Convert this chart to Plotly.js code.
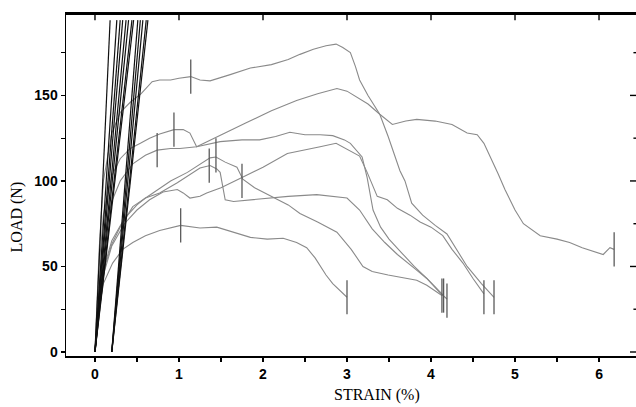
<!DOCTYPE html>
<html>
<head>
<meta charset="utf-8">
<script src="https://cdn.plot.ly/plotly-3.0.1.min.js"></script>
<style>html,body{margin:0;padding:0;overflow:hidden;background:#fff;}#chart{width:640px;height:407px;}</style>
</head>
<body>
<div id="chart"></div>
<script>
// ---- data (strain in %, load in N) ----
var strainA = [0,0.05,0.1,0.2,0.3,0.42,0.55,0.62,0.68,0.77,0.9,1.0,1.14,1.25,1.37,1.6,1.85,2.1,2.3,2.44,2.6,2.75,2.87,2.95,3.04,3.1,3.15,3.25,3.39,3.49,3.63,3.69,3.77,3.9,4.05,4.19,4.3,4.43,4.6,4.75];
var loadA   = [0,60,100,128,140,146,151,155,158,159,159,160,161,159,158.5,162,166,168,171,174,177,179,180,178,175,167,159,150,139,126,106,100,87,80,74,69,60,50,40,32];

var strainB = [0,0.05,0.1,0.2,0.3,0.42,0.54,0.65,0.77,0.94,1.05,1.13,1.21,1.5,1.8,2.1,2.4,2.65,2.88,3.0,3.12,3.25,3.39,3.54,3.7,3.83,4.05,4.25,4.43,4.55,4.63,4.7,4.8,4.88,5.0,5.1,5.3,5.5,5.65,5.8,5.95,6.05,6.13,6.18];
var loadB   = [0,50,80,103,113,119,122,125,127.5,130,130,128,120,127,134,141,147,151,154,152.5,149,145,139,133,135,136,135,133,128,127,122,115,104,95,83,75,68,66,64,61,58.5,57,61,60];

var strainC = [0,0.05,0.1,0.2,0.3,0.45,0.6,0.74,0.9,1.01,1.21,1.49,1.75,1.96,2.15,2.32,2.5,2.68,2.83,2.97,3.04,3.18,3.24,3.31,3.4,3.5,3.65,3.8,3.95,4.1,4.19];
var loadC   = [0,40,65,88,100,110,115,118,119,119,120,123,124,124,126,128.5,127,127,126.5,124,122,114,102,83,73,66,58,50,43,35,31];

var strainD = [0,0.05,0.1,0.2,0.35,0.5,0.6,0.77,0.98,1.1,1.25,1.37,1.45,1.49,1.52,1.55,1.65,1.85,2.1,2.3,2.64,2.85,3.0,3.15,3.3,3.45,3.6,3.8,3.95,4.05,4.15];
var loadD   = [0,30,48,65,78,86,90,93,99,103,107.6,109,107,105,97,89,88,89,90,91,92,91,90,83,72,64,57,49,43,38,33];

var strainE = [0,0.05,0.1,0.2,0.3,0.45,0.69,0.9,1.1,1.25,1.37,1.44,1.55,1.69,1.76,1.9,2.12,2.3,2.44,2.65,2.88,3.05,3.19,3.3,3.49,3.65,3.83,3.95,4.13];
var loadE   = [0,30,47,63,73,85,93,100,105,110,113.5,114,111,108,101,96,90.6,86,81,76,70,60,50,47,45,43.5,42,39,33];

var strainF = [0,0.05,0.1,0.2,0.35,0.5,0.65,0.81,0.98,1.05,1.13,1.25,1.33,1.5,1.75,2.0,2.29,2.5,2.68,2.87,3.04,3.15,3.24,3.36,3.48,3.6,3.75,3.87,4.0,4.14,4.25,4.38,4.5,4.63];
var loadF   = [0,28,45,62,75,83,89,93.5,95,93,90,91,93,96,102,108,116,118,120,122,117.5,114.5,105,91,89,84,80,76,73,68,60,52,43,34];

var strainG = [0,0.05,0.1,0.21,0.33,0.45,0.6,0.77,1.02,1.25,1.45,1.65,1.85,2.05,2.24,2.4,2.52,2.62,2.68,2.75,2.83,2.92,3.0];
var loadG   = [0,25,40,52,60,64,68,71,74,72.5,73,70,67,66,66.5,64,61,55,50,45,40,36,32];

// vertical marker bars (centre point on each curve), half height in N
var barStrain = [1.14,0.94,0.74,1.36,1.44,1.75,1.02, 3.0,4.13,4.15,4.19,4.63,4.75,6.18];
var barLoad   = [161,130,118,109,115,100,74, 32,33,33,30,32,32,60];
var barHalf = 10;

// steep initial loading lines (black): start strain and strain where they leave the top
var stiffStart = [0,0,0,0,0,0,0,0, 0.2,0.2,0.2,0.2,0.2];
var stiffEnd   = [0.18,0.26,0.30,0.33,0.37,0.40,0.44,0.46, 0.51,0.54,0.57,0.61,0.63];
var stiffLoadTop = 194;

var xTicks = [0,1,2,3,4,5,6];
var xMinor = [0.5,1.5,2.5,3.5,4.5,5.5];
var yTicks = [0,50,100,150];
var yMinor = [25,75,125,175];
var yTicksRight = [0,25,50,75,100,125,150,175];

// ---- traces ----
var traces = [];
var curves = [[strainA,loadA],[strainB,loadB],[strainC,loadC],[strainD,loadD],[strainE,loadE],[strainF,loadF],[strainG,loadG]];
curves.forEach(function(c){
  traces.push({x:c[0], y:c[1], type:'scatter', mode:'lines', hoverinfo:'skip',
    line:{color:'#8a8a8a', width:1.1}, showlegend:false});
});
var bx = [], by = [];
for (var j=0;j<barStrain.length;j++){
  bx.push(barStrain[j], barStrain[j], null);
  by.push(barLoad[j]-barHalf, barLoad[j]+barHalf, null);
}
traces.push({x:bx, y:by, type:'scatter', mode:'lines', hoverinfo:'skip',
  line:{color:'#5a5a5a', width:1.3}, showlegend:false});
var sx = [], sy = [];
for (var i=0;i<stiffStart.length;i++){ sx.push(stiffStart[i], stiffEnd[i], null); sy.push(0, stiffLoadTop, null); }
traces.push({x:sx, y:sy, type:'scatter', mode:'lines', hoverinfo:'skip',
  line:{color:'#111', width:1.2}, showlegend:false});

var tickFont = {family:'"Liberation Sans", Arial, sans-serif', size:14, color:'#000', weight:'bold'};
var xr = [-0.345, 6.464], yr = [-2.34, 197.6];

// frame decorations: top border and inward ticks on the top and right edges
var shapes = [{type:'line', xref:'paper', yref:'paper', x0:0, x1:1, y0:1, y1:1, line:{color:'#000', width:2}}];
xTicks.forEach(function(t){
  shapes.push({type:'line', xref:'x', yref:'paper', x0:t, x1:t, y0:1, y1:0.982, line:{color:'#000', width:1.4}});
});
yTicksRight.forEach(function(t, k){
  var len = (k % 2 === 0) ? 0.014 : 0.008;
  shapes.push({type:'line', xref:'paper', yref:'y', x0:1, x1:1-len, y0:t, y1:t, line:{color:'#000', width:1.4}});
});

var xVals = xTicks.concat(xMinor), xText = xTicks.map(String).concat(xMinor.map(function(){return '';}));
var yVals = yTicks.concat(yMinor), yText = yTicks.map(String).concat(yMinor.map(function(){return '';}));

var layout = {
  width:640, height:407,
  margin:{l:66, r:2, t:14, b:51},
  showlegend:false,
  xaxis:{range:xr, tickvals:xVals, ticktext:xText, ticks:'outside', ticklen:4, tickwidth:1.3,
    tickcolor:'#000', showline:true, mirror:true, linecolor:'#000', linewidth:1.8, showgrid:false, zeroline:false,
    tickfont:tickFont},
  yaxis:{range:yr, tickvals:yVals, ticktext:yText, ticks:'outside', ticklen:4, tickwidth:1.3,
    tickcolor:'#000', showline:true, mirror:true, linecolor:'#000', linewidth:1.5, showgrid:false, zeroline:false,
    tickfont:tickFont},
  shapes:shapes,
  annotations:[
    {text:'LOAD (N)', xref:'paper', yref:'paper', x:-0.084, y:0.408, textangle:-90, showarrow:false,
     xanchor:'center', yanchor:'middle', font:{family:'"Liberation Serif", "Times New Roman", serif', size:16, color:'#000'}},
    {text:'STRAIN (%)', xref:'paper', yref:'paper', x:0.5437, y:-0.1144, showarrow:false,
     xanchor:'center', yanchor:'middle', font:{family:'"Liberation Serif", "Times New Roman", serif', size:16, color:'#000'}}
  ]
};

Plotly.newPlot('chart', traces, layout, {staticPlot:true, displayModeBar:false});
</script>
</body>
</html>
